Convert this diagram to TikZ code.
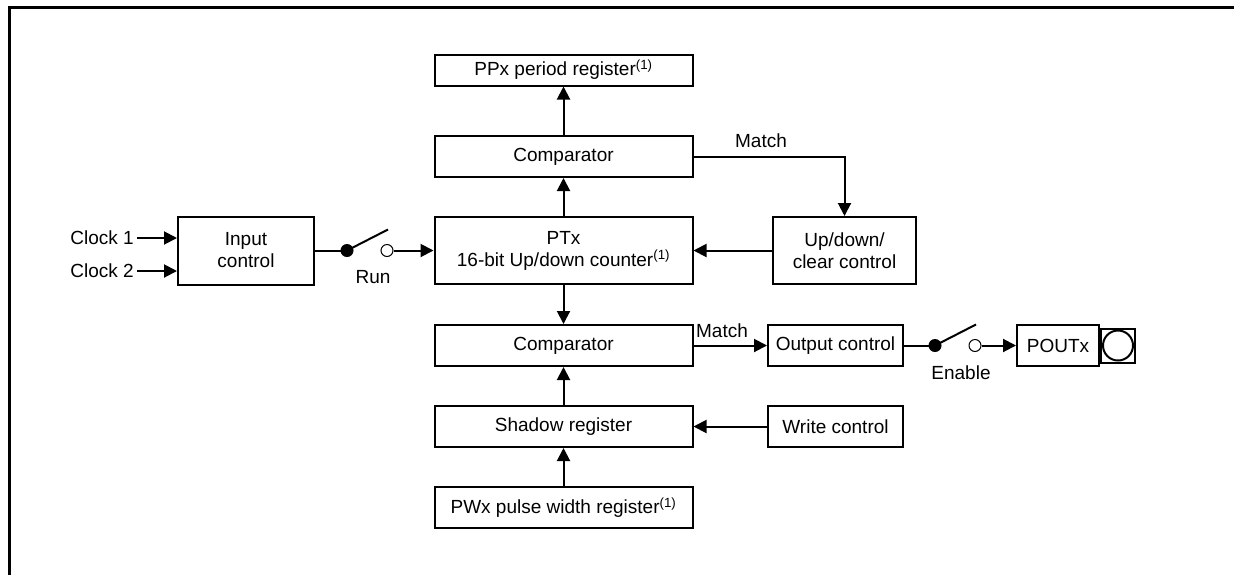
\documentclass[tikz,border=0pt]{standalone}
\usepackage{fontspec}
\setmainfont{Liberation Sans}
\usetikzlibrary{arrows.meta, positioning, calc}
\definecolor{lineBlack}{HTML}{000000}
\def\leverdx{41}
\def\leverdy{-21}
\tikzset{
    blk/.style={draw=lineBlack, line width=2pt, fill=white, minimum width=#1,
        minimum height=41pt, inner sep=0pt, align=center,
        font=\fontsize{19}{22}\selectfont},
    blk/.default=258pt,
    lbl/.style={inner sep=0pt, font=\fontsize{19}{22}\selectfont},
    wire/.style={draw=lineBlack, line width=2pt},
    arr/.style={wire, -{Triangle[length=13pt, width=13pt]}}
}
\newcommand{\noteref}{\textsuperscript{(1)}}
\newcommand{\DrawSwitch}[4]{
    \begin{scope}[shift={(#1,#2)}]
        \fill[lineBlack] (0,0) coordinate (#3in) circle (6.5pt);
        \draw[wire] (0,0) -- (\leverdx,\leverdy);
        \node[circle, draw=lineBlack, line width=1pt, fill=white, minimum size=12pt, inner sep=0pt] (#3out) at (40,0) {};
        \node[lbl] (#3lbl) at (26,27) {#4};
    \end{scope}
}

\begin{document}
\begin{tikzpicture}[x=1pt, y=-1pt]
    \useasboundingbox (0,0) rectangle (1234,574);
    % Frame
    \begin{scope}
        \clip (0,0) rectangle (1234,574);
        \draw[lineBlack, line width=3pt] (9,600) -- (9,7) -- (1250,7);
    \end{scope}

    % Centre column
    \node[blk, minimum height=31pt] (ppx) at (563.5,70) {PPx period register\noteref};
    \node[blk] (cmpTop) at (563.5,156.5) {Comparator};
    \node[blk, minimum height=67pt] (ptx) at (563.5,250.5) {PTx\\16-bit Up/down counter\noteref};
    \node[blk] (cmpBot) at (563.5,345.5) {Comparator};
    \node[blk] (shadow) at (563.5,426.5) {Shadow register};
    \node[blk] (pwx) at (563.5,507.5) {PWx pulse width register\noteref};

    % Side blocks
    \node[blk=136pt, minimum height=68pt] (input) at (246,250.5) {Input\\control};
    \node[blk=143pt, minimum height=67pt] (updown) at (844.5,250.5) {Up/down/\\clear control};
    \node[blk=135pt] (outctl) at (835.5,345.5) {Output control};
    \node[blk=135pt] (writectl) at (835.5,426.5) {Write control};
    \node[blk=82pt] (pout) at (1058,345.5) {POUTx};
    \node[draw=lineBlack, line width=2pt, minimum size=34pt, inner sep=0pt, anchor=west] (pad) at (pout.east) {};
    \draw[wire] (pad.center) circle (15pt);

    % Clock inputs
    \node[lbl, anchor=east] (clk1) at (134,238) {Clock 1};
    \node[lbl, anchor=east] (clk2) at (134,271) {Clock 2};
    \draw[arr] ([xshift=3pt]clk1.east) -- (clk1 -| input.west);
    \draw[arr] ([xshift=3pt]clk2.east) -- (clk2 -| input.west);

    % Switches
    \DrawSwitch{347}{250.5}{run}{Run}
    \DrawSwitch{935}{345.5}{en}{Enable}
    \draw[wire] (input.east) -- (runin);
    \draw[arr] (runout.east) -- (runout -| ptx.west);
    \draw[wire] (outctl.east) -- (enin);
    \draw[arr] (enout.east) -- (pout.west);

    % Vertical data paths
    \draw[arr] (ptx.north) -- (cmpTop.south);
    \draw[arr] (cmpTop.north) -- (ppx.south);
    \draw[arr] (ptx.south) -- (cmpBot.north);
    \draw[arr] (shadow.north) -- (cmpBot.south);
    \draw[arr] (pwx.north) -- (shadow.south);

    % Control paths
    \draw[arr] (updown.west) -- (ptx.east);
    \draw[arr] (writectl.west) -- (shadow.east);
    \draw[arr] (cmpTop.east) -- (cmpTop.east -| updown.north) -- (updown.north);
    \node[lbl] (matchTop) at (761,141) {Match};
    \draw[arr] (cmpBot.east) -- (outctl.west);
    \node[lbl] (matchBot) at (722,331) {Match};
\end{tikzpicture}
\end{document}
